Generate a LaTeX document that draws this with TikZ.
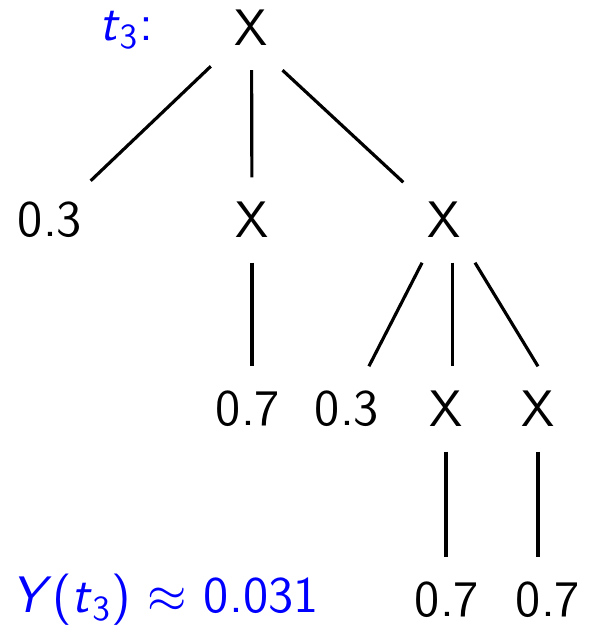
\documentclass[tikz,border=0pt]{standalone}
\usepackage{tikz}

\begin{document}
\begin{tikzpicture}[
        tnode/.style={rectangle, inner sep=0pt, minimum width=0.8cm, minimum height=0.84cm,
            font=\fontsize{14.6}{17}\selectfont\sffamily},
        note/.style={tnode, text=blue},
        branch/.style={black, line width=0.9pt}
    ]
    \useasboundingbox (0,0) rectangle (5.97,-6.25);

    % Labels
    \node[note] (tlab) at (1.26, -0.30) {\textit{t}$_{\mathsf{3}}$:};
    \node[note] (ylab) at (1.65, -6.00) {\textit{Y}(\textit{t}$_{\mathsf{3}}$) $\approx$ 0.031};

    % Tree nodes
    \node[tnode] (root) at (2.515, -0.275) {X};
    \node[tnode] (l3)   at (0.50, -2.195) {0.3};
    \node[tnode] (mx)   at (2.52, -2.20) {X};
    \node[tnode] (rx)   at (4.44, -2.20) {X};
    \node[tnode] (m7)   at (2.48, -4.09) {0.7};
    \node[tnode] (r3)   at (3.47, -4.09) {0.3};
    \node[tnode] (xm)   at (4.46, -4.09) {X};
    \node[tnode] (xr)   at (5.38, -4.09) {X};
    \node[tnode] (b1)   at (4.47, -6.00) {0.7};
    \node[tnode] (b2)   at (5.48, -6.00) {0.7};

    % Branches
    \draw[branch] (root) -- (l3);
    \draw[branch] (root) -- (mx);
    \draw[branch] (root.-54) -- (rx);
    \draw[branch] (mx) -- (mx |- m7.north);
    \draw[branch] (rx) -- (r3);
    \draw[branch] (rx.-79) -- (rx.-79 |- xm.north);
    \draw[branch] (rx.-54) -- (xr.north);
    \draw[branch] (xm) -- (xm |- b1.north);
    \draw[branch] (xr) -- (xr |- b2.north);
\end{tikzpicture}
\end{document}
